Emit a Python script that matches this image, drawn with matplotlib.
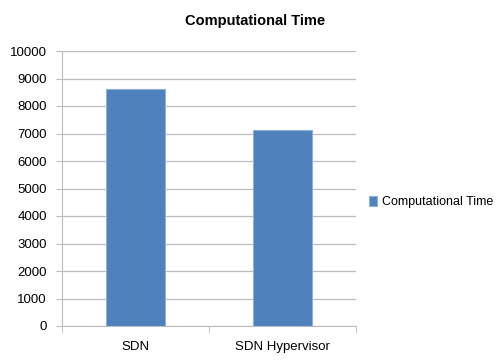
import numpy as np
import matplotlib.pyplot as plt

categories = ['SDN', 'SDN Hypervisor']
values = [8630, 7120]
series_name = 'Computational Time'
yticks = np.arange(0, 10001, 1000)

plt.rcParams['font.family'] = ['Liberation Sans', 'DejaVu Sans']

fig = plt.figure(figsize=(4.99, 3.61), dpi=100)
fig.set_facecolor('w')
ax = fig.add_axes([62 / 499, 1 - 326 / 361, 294 / 499, 275 / 361])

x = np.arange(len(categories))
ax.bar(x, values, width=0.4, color='#4F81BD', edgecolor='#8EB0DA',
       linewidth=0.8, label=series_name, zorder=3)

ax.set_xlim(-0.5, len(categories) - 0.5)
ax.set_ylim(0, 10000)
ax.set_yticks(yticks)
ax.set_yticklabels([str(v) for v in yticks], fontsize=9.5)
ax.yaxis.grid(True, color='#BDBDBD', linewidth=0.9, zorder=0)

ax.set_xticks(x)
ax.set_xticklabels(categories, fontsize=9.5)
ax.tick_params(axis='x', length=0, pad=11)
ax.set_xticks([-0.5, 0.5, 1.5], minor=True)
ax.tick_params(axis='x', which='minor', length=5, color='#BDBDBD')
ax.tick_params(axis='y', length=4, color='#BDBDBD', pad=7)

for s in ['top', 'right']:
    ax.spines[s].set_visible(False)
ax.spines['left'].set_color('#BDBDBD')
ax.spines['bottom'].set_color('#BDBDBD')

fig.text(255 / 499, 1 - 21 / 361, 'Computational Time', ha='center', va='center',
         fontsize=10.5, fontweight='bold')

ax.legend(loc='center left', bbox_to_anchor=(1.02, 0.45), frameon=False,
          fontsize=9, handlelength=0.6, handleheight=0.9, handletextpad=0.4,
          borderaxespad=0.2)

fig.savefig('out.png', dpi=100)
